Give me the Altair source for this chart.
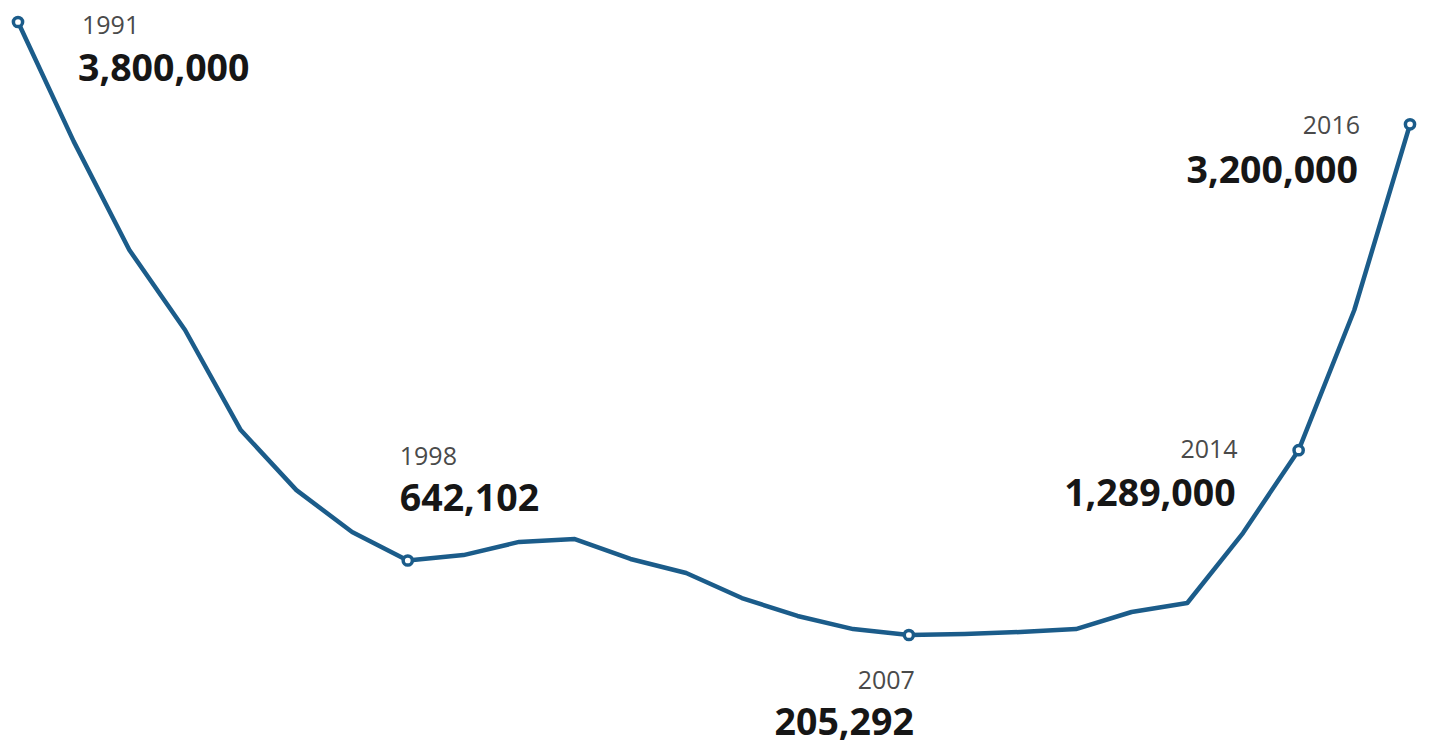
import altair as alt
import pandas as pd

years = list(range(1991, 2017))
values = [3800000, 3100000, 2463000, 1994000, 1407000, 1055000, 809000, 642102,
          674000, 751000, 768000, 651000, 569000, 422000, 317000, 240000,
          205292, 211000, 223000, 240000, 340000, 393000, 803000, 1289000,
          2111000, 3200000]

marked_years = [1991, 1998, 2007, 2014, 2016]
marked_values = [3800000, 642102, 205292, 1289000, 3200000]
marked_labels = ["3,800,000", "642,102", "205,292", "1,289,000", "3,200,000"]

df = pd.DataFrame({"year": years, "value": values})
pts = pd.DataFrame({"year": marked_years, "value": marked_values,
                    "label": marked_labels,
                    "ylabel": [str(y) for y in marked_years]})

BLUE = "#1b5c8a"
x_enc = alt.X("year:Q", axis=None, scale=alt.Scale(domain=[1991, 2016], range=[18, 1410], nice=False, zero=False))
y_enc = alt.Y("value:Q", axis=None, scale=alt.Scale(domain=[0, 3800000], range=[670, 22], nice=False))

line = alt.Chart(df).mark_line(color=BLUE, strokeWidth=4.5, strokeJoin="round").encode(x=x_enc, y=y_enc)
points = alt.Chart(pts).mark_point(shape="circle", filled=True, fill="white", stroke=BLUE,
                                   strokeWidth=3.5, size=85, opacity=1).encode(x=x_enc, y=y_enc)

# per-annotation placement: (align, year dx, year dy, value dx, value dy)
placement = {
    1991: ("left", 64, 12, 60, 59),
    1998: ("left", -8, -96, -8, -50),
    2007: ("right", 6, 54, 5, 100),
    2014: ("right", -61, 8, -63, 56),
    2016: ("right", -50, 10, -52, 59),
}

layers = [line, points]
for yr in marked_years:
    align, ydx, ydy, vdx, vdy = placement[yr]
    sub = pts[pts["year"] == yr]
    layers.append(
        alt.Chart(sub).mark_text(align=align, baseline="alphabetic", dx=ydx, dy=ydy,
                                 font="Open Sans", fontSize=25, color="#4a4a4a")
        .encode(x=x_enc, y=y_enc, text="ylabel:N")
    )
    layers.append(
        alt.Chart(sub).mark_text(align=align, baseline="alphabetic", dx=vdx, dy=vdy,
                                 font="Open Sans", fontSize=37.5, fontWeight="bold", color="#161616")
        .encode(x=x_enc, y=y_enc, text="label:N")
    )

chart = alt.layer(*layers).properties(
    width=1429, height=745, padding=0, autosize=alt.AutoSizeParams(type="none"),
    background="white"
).configure_view(stroke=None)

chart.save("out.html", embed_options={"renderer": "svg", "actions": False})
